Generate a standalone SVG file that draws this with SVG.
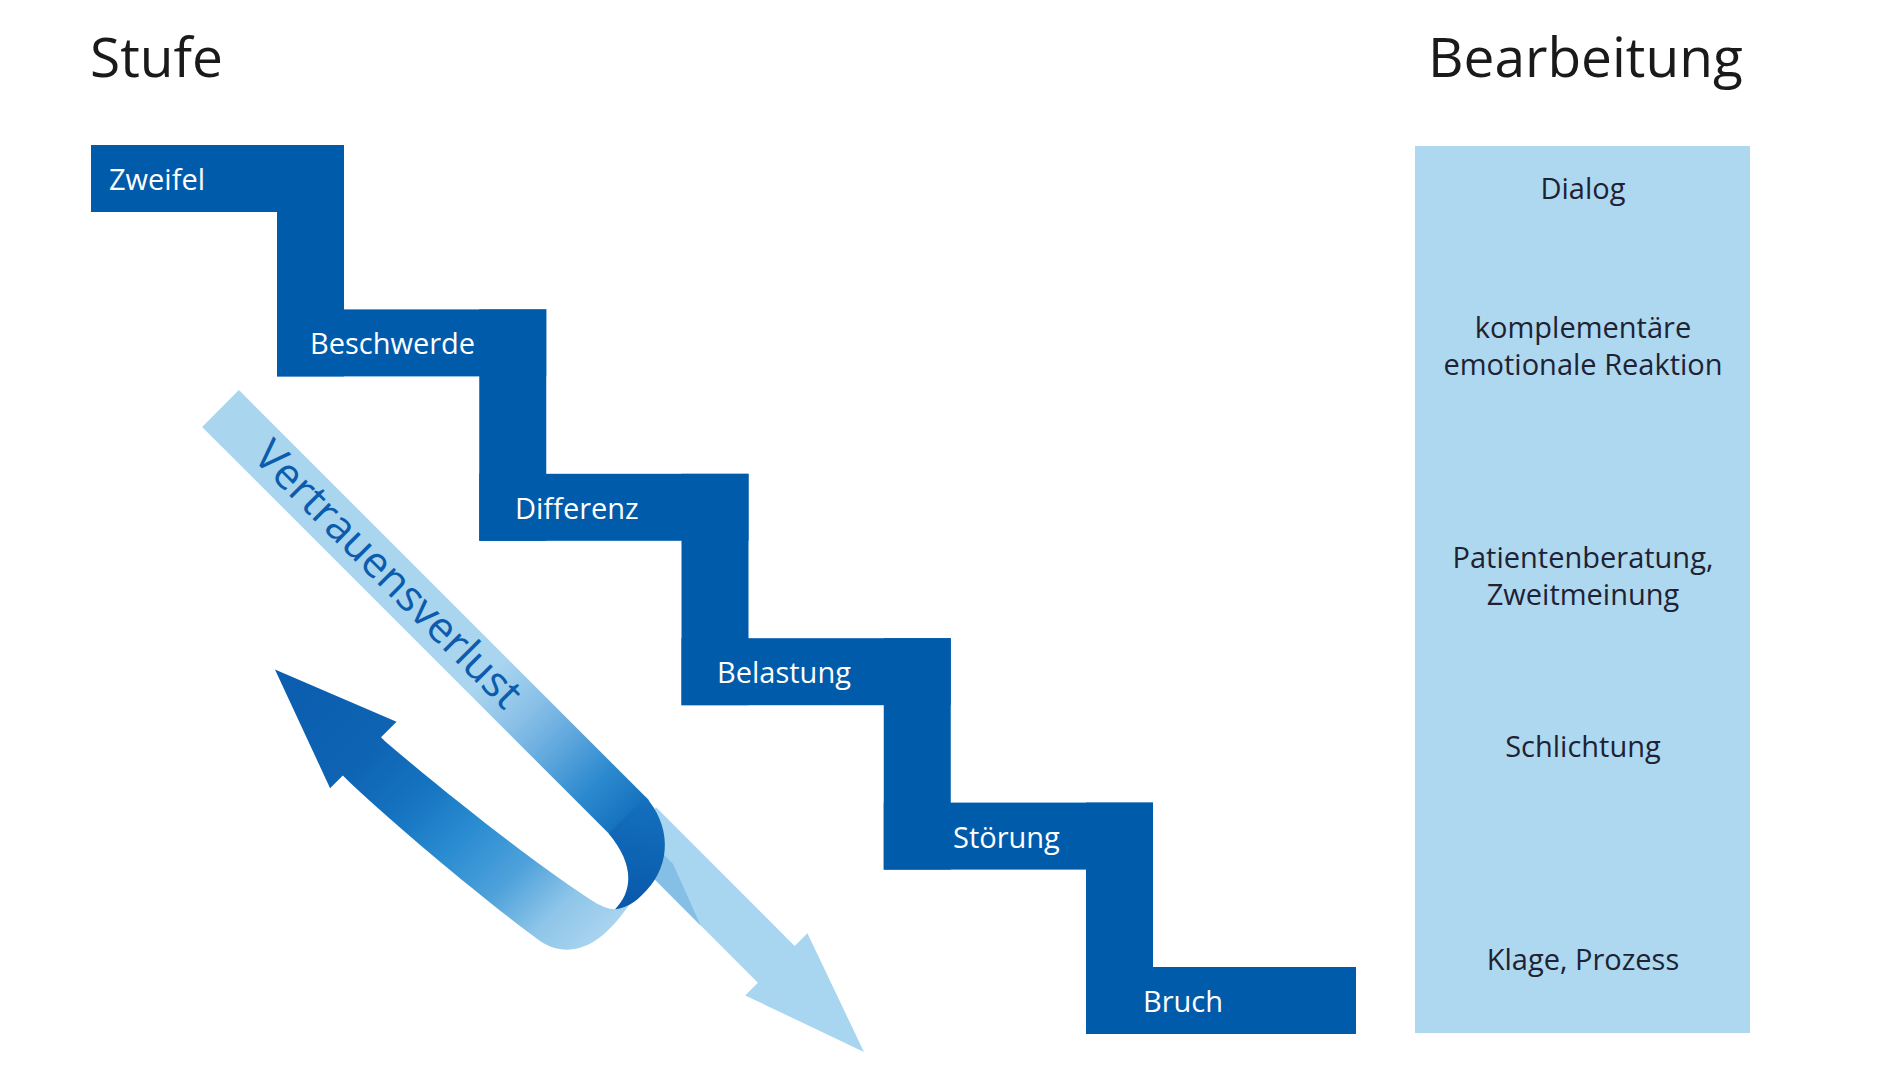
<svg xmlns="http://www.w3.org/2000/svg" width="1900" height="1070" viewBox="0 0 1900 1070">
<style>
  .stair { fill: #005BAA; }
  .slabel { font-family: "Open Sans", "Noto Sans", sans-serif; font-size: 29px; fill: #ffffff; }
  .head { font-family: "Open Sans", "Noto Sans", sans-serif; font-size: 55px; fill: #1a1a1a; }
  .plabel { font-family: "Open Sans", "Noto Sans", sans-serif; font-size: 29px; fill: #1E2233; text-anchor: middle; }
  .arrowtext { font-family: "Open Sans", "Noto Sans", sans-serif; font-size: 43px; fill: #0B5CAD; }
</style>
<defs>
  <linearGradient id="gMain" gradientUnits="userSpaceOnUse" x1="0" y1="0" x2="610" y2="0">
    <stop offset="0" stop-color="#A9D5EF"/>
    <stop offset="0.62" stop-color="#A9D5EF"/>
    <stop offset="0.70" stop-color="#8DC2E8"/>
    <stop offset="0.78" stop-color="#62A9DE"/>
    <stop offset="0.865" stop-color="#2F8BCF"/>
    <stop offset="0.95" stop-color="#1470BD"/>
    <stop offset="1" stop-color="#0C62B2"/>
  </linearGradient>
  <linearGradient id="gLoop" gradientUnits="userSpaceOnUse" x1="223" y1="0" x2="643" y2="0">
    <stop offset="0" stop-color="#0B5DAE"/>
    <stop offset="0.29" stop-color="#0E63B3"/>
    <stop offset="0.45" stop-color="#1573C0"/>
    <stop offset="0.6" stop-color="#2A8CD1"/>
    <stop offset="0.75" stop-color="#4FA2DB"/>
    <stop offset="0.88" stop-color="#8EC5E9"/>
    <stop offset="1" stop-color="#A9D4EF"/>
  </linearGradient>
  <linearGradient id="gCres" gradientUnits="userSpaceOnUse" x1="575" y1="-26" x2="640" y2="70">
    <stop offset="0" stop-color="#1570BE"/>
    <stop offset="1" stop-color="#0858AA"/>
  </linearGradient>
</defs>

<rect width="1900" height="1070" fill="#ffffff"/>

<g id="title-stufe"><text class="head" x="90" y="77">Stufe</text></g>
<g id="title-bearbeitung"><text class="head" x="1428" y="77">Bearbeitung</text></g>

<g id="step-zweifel">
  <rect class="stair" x="91" y="145" width="253" height="67"/>
  <rect class="stair" x="277" y="145" width="67" height="231.4"/>
  <text class="slabel" x="109" y="190">Zweifel</text>
</g>
<g id="step-beschwerde">
  <rect class="stair" x="277" y="309.4" width="269.25" height="67"/>
  <rect class="stair" x="479.25" y="309.4" width="67" height="231.4"/>
  <text class="slabel" x="310" y="354.4">Beschwerde</text>
</g>
<g id="step-differenz">
  <rect class="stair" x="479.25" y="473.8" width="269.25" height="67"/>
  <rect class="stair" x="681.5" y="473.8" width="67" height="231.4"/>
  <text class="slabel" x="515" y="518.8">Differenz</text>
</g>
<g id="step-belastung">
  <rect class="stair" x="681.5" y="638.2" width="269.25" height="67"/>
  <rect class="stair" x="883.75" y="638.2" width="67" height="231.4"/>
  <text class="slabel" x="717" y="683.2">Belastung</text>
</g>
<g id="step-stoerung">
  <rect class="stair" x="883.75" y="802.6" width="269.25" height="67"/>
  <rect class="stair" x="1086" y="802.6" width="67" height="231.4"/>
  <text class="slabel" x="953" y="847.6">Störung</text>
</g>
<g id="step-bruch">
  <rect class="stair" x="1086" y="967" width="270" height="67"/>
  <text class="slabel" x="1143" y="1012">Bruch</text>
</g>

<g id="bearbeitung-panel">
  <rect x="1415" y="146" width="335" height="887" fill="#AED8EF"/>
  <text class="plabel" x="1583" y="199">Dialog</text>
  <text class="plabel" x="1583" y="338">komplementäre</text>
  <text class="plabel" x="1583" y="375">emotionale Reaktion</text>
  <text class="plabel" x="1583" y="568">Patientenberatung,</text>
  <text class="plabel" x="1583" y="605">Zweitmeinung</text>
  <text class="plabel" x="1583" y="757">Schlichtung</text>
  <text class="plabel" x="1583" y="970">Klage, Prozess</text>
</g>

<g id="connectors">
  <g id="vertrauensverlust-arrow" transform="translate(220.5 408.5) rotate(45)">
    <path d="M590,-26 L786,-26 L786,-44 L910,0 L786,44 L786,26 L590,26 Z" fill="#A8D5EF"/>
    <path d="M628,2 L642,2 L705,26 L636,26 Z" fill="#86BFE6"/>
    <path d="M633,75 C628,80 622,82 616,84 C560,97 450,111 352,119 L346,119 L346,97 L223,146 L346,191 L346,173 L356,173 C440,170 540,160 600,151 C628,147 643,125 643,95 C643,80 641,70 640,62 Z" fill="url(#gLoop)"/>
    <path d="M0,-26 L580,-26 L580,26 L0,26 Z" fill="url(#gMain)"/>
    <path d="M575,-26 C612,-24 641,2 642,40 C643,58 639,68 633,75 C633,52 618,30 575,26 Z" fill="url(#gCres)"/>
    <text class="arrowtext" x="57" y="13">Vertrauensverlust</text>
  </g>
</g>
</svg>
